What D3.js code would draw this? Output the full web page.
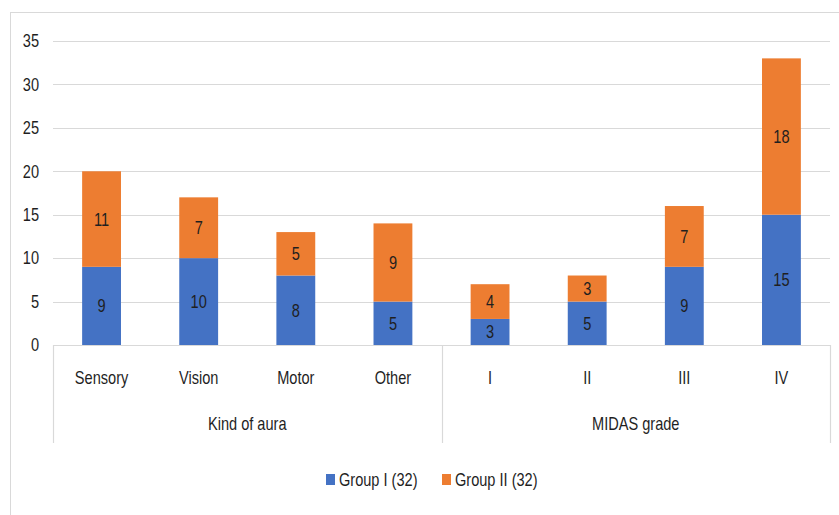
<!DOCTYPE html>
<html>
<head>
<meta charset="utf-8">
<script src="https://cdn.jsdelivr.net/npm/d3@7/dist/d3.min.js"></script>
<style>
  html, body { margin: 0; padding: 0; background: #fff; }
  svg { display: block; }
  text { font-family: "Liberation Sans", Arial, sans-serif; fill: #1f1f1f; }
</style>
</head>
<body>
<svg id="chart" width="839" height="515"></svg>
<script>
// Categories, grouped under two headings
const categories = ["Sensory", "Vision", "Motor", "Other", "I", "II", "III", "IV"];
const groupNames = ["Kind of aura", "MIDAS grade"];
const groupOf = [0, 0, 0, 0, 1, 1, 1, 1];

// Series values
const groupI = [9, 10, 8, 5, 3, 5, 9, 15];
const groupII = [11, 7, 5, 9, 4, 3, 7, 18];
const seriesNames = ["Group I (32)", "Group II (32)"];
const seriesColors = ["#4472C4", "#ED7D31"];

// Value-axis ticks
const yTicks = [0, 5, 10, 15, 20, 25, 30, 35];

const svg = d3.select("#chart");
const W = 839, H = 515;
const plot = { left: 53, right: 830, top: 41, bottom: 345 };
const FS = 18;          // label font size
const SQUEEZE = 0.81;   // horizontal condensing of labels

// place a text element at (px, py) with condensed glyphs
function place(sel, px, py) {
  sel.attr("x", 0).attr("y", 0)
    .attr("transform", (d, i, n) => {
      const X = typeof px === "function" ? px(d, i, n) : px;
      const Y = typeof py === "function" ? py(d, i, n) : py;
      return `translate(${X},${Y}) scale(${SQUEEZE},1)`;
    });
  return sel;
}

// chart area frame (extends past the right/bottom edge)
svg.append("rect")
  .attr("x", 10.5).attr("y", 12.5)
  .attr("width", W + 20).attr("height", H + 20)
  .attr("fill", "#fff").attr("stroke", "#d9d9d9").attr("stroke-width", 1);

const x = d3.scaleBand().domain(categories).range([plot.left, plot.right]).paddingInner(0.6).paddingOuter(0.3);
const y = d3.scaleLinear().domain([0, 35]).range([plot.bottom, plot.top]);

// gridlines
svg.append("g").selectAll("line").data(yTicks.filter(t => t > 0)).join("line")
  .attr("x1", plot.left).attr("x2", plot.right)
  .attr("y1", d => Math.round(y(d)) + 0.5).attr("y2", d => Math.round(y(d)) + 0.5)
  .attr("stroke", "#d9d9d9").attr("stroke-width", 1.2);

// y axis labels
const yAxis = d3.axisLeft(y).tickValues(yTicks).tickSize(0).tickPadding(0);
const gy = svg.append("g").attr("transform", `translate(39,0)`).call(yAxis);
gy.select(".domain").remove();
gy.selectAll("text").attr("font-size", FS).attr("text-anchor", "end")
  .attr("font-family", "'Liberation Sans', Arial, sans-serif").attr("fill", "#1f1f1f")
  .attr("transform", `scale(${SQUEEZE},1)`);

// stacked data
const stackData = categories.map((c, i) => ({ cat: c, g1: groupI[i], g2: groupII[i] }));
const stacked = d3.stack().keys(["g1", "g2"])(stackData);

const layers = svg.append("g").selectAll("g").data(stacked).join("g")
  .attr("fill", (d, i) => seriesColors[i]);
layers.selectAll("rect").data(d => d).join("rect")
  .attr("x", d => x(d.data.cat))
  .attr("width", x.bandwidth())
  .attr("y", d => y(d[1]))
  .attr("height", d => y(d[0]) - y(d[1]));

// value labels, centred in each segment
place(layers.selectAll("text").data(d => d.map(v => ({ v, key: d.key }))).join("text"),
    d => x(d.v.data.cat) + x.bandwidth() / 2,
    d => (y(d.v[0]) + y(d.v[1])) / 2)
  .attr("dy", "0.36em")
  .attr("text-anchor", "middle")
  .attr("font-size", FS)
  .attr("fill", "#111")
  .text(d => d.v.data[d.key]);

// category axis line and group separators
const axisG = svg.append("g").attr("stroke", "#d9d9d9").attr("stroke-width", 1.2);
axisG.append("line").attr("x1", plot.left).attr("x2", plot.right)
  .attr("y1", plot.bottom + 0.5).attr("y2", plot.bottom + 0.5);
const sepXs = [plot.left, (x("Other") + x.bandwidth() + x("I")) / 2, plot.right];
axisG.selectAll("line.sep").data(sepXs).join("line").attr("class", "sep")
  .attr("x1", d => Math.round(d) + 0.5).attr("x2", d => Math.round(d) + 0.5)
  .attr("y1", plot.bottom).attr("y2", 443);

// category labels
place(svg.append("g").selectAll("text").data(categories).join("text"),
    d => x(d) + x.bandwidth() / 2, 378)
  .attr("dy", "0.36em")
  .attr("text-anchor", "middle").attr("font-size", FS)
  .text(d => d);

// group labels
place(svg.append("g").selectAll("text").data(groupNames).join("text"),
    (d, gi) => {
      const idx = categories.filter((c, i) => groupOf[i] === gi);
      const a = x(idx[0]), b = x(idx[idx.length - 1]) + x.bandwidth();
      return (a + b) / 2;
    }, 424)
  .attr("dy", "0.36em")
  .attr("text-anchor", "middle").attr("font-size", FS)
  .text(d => d);

// legend
const legend = svg.append("g");
const legendX = [326, 442];
seriesNames.forEach((name, i) => {
  legend.append("rect").attr("x", legendX[i]).attr("y", 474)
    .attr("width", 9).attr("height", 11).attr("fill", seriesColors[i]);
  place(legend.append("text"), legendX[i] + 13, 480)
    .attr("dy", "0.36em")
    .attr("font-size", FS).text(name);
});
</script>
</body>
</html>
